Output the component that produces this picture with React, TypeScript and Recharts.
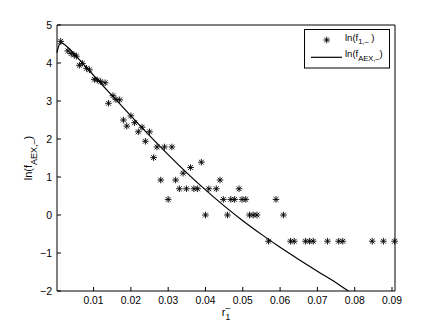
import React from "react";
import {
  ComposedChart,
  Line,
  Scatter,
  XAxis,
  YAxis,
} from "recharts";

// measured points, ln(f_1,-)
const scatterX = [
  0.0012, 0.0031, 0.004, 0.0048, 0.0054, 0.0062, 0.007, 0.0081, 0.0089, 0.0102,
  0.011, 0.0119, 0.0131, 0.014, 0.0152, 0.016, 0.017, 0.018, 0.0189, 0.02,
  0.021, 0.022, 0.023, 0.0239, 0.025, 0.0261, 0.027, 0.028, 0.029, 0.03,
  0.031, 0.032, 0.033, 0.034, 0.0349, 0.036, 0.0369, 0.0379, 0.0389, 0.04,
  0.0409, 0.0429, 0.0439, 0.0448, 0.0459, 0.0468, 0.0478, 0.049, 0.0498, 0.0508,
  0.0518, 0.0528, 0.0538, 0.0569, 0.0589, 0.0609, 0.0628, 0.0638, 0.0668, 0.0679,
  0.0689, 0.0727, 0.0757, 0.0768, 0.0847, 0.0877, 0.0907,
];
const scatterY = [
  4.57, 4.32, 4.25, 4.21, 4.18, 3.94, 3.99, 3.86, 3.82, 3.57,
  3.55, 3.51, 3.48, 2.94, 3.14, 3.04, 3.03, 2.5, 2.34, 2.61,
  2.43, 2.19, 2.31, 1.94, 2.19, 1.51, 1.79, 0.92, 1.79, 0.41,
  1.79, 0.92, 0.69, 1.1, 0.69, 1.25, 0.69, 0.69, 1.39, 0,
  0.69, 0.69, 0.92, 0.41, 0, 0.41, 0.41, 0.69, 0.41, 0.41,
  0, 0, 0, -0.69, 0.41, 0, -0.69, -0.69, -0.69, -0.69,
  -0.69, -0.69, -0.69, -0.69, -0.69, -0.69, -0.69,
];

// fitted curve, ln(f_AEX,-)
const lineX = [
  0.0002, 0.0006, 0.001, 0.0014, 0.002, 0.003, 0.005, 0.008, 0.0118, 0.015,
  0.02, 0.025, 0.03, 0.035, 0.04, 0.045, 0.05, 0.055, 0.06, 0.065, 0.07, 0.075,
  0.0783,
];
const lineY = [
  4.27, 4.43, 4.51, 4.53, 4.5, 4.42, 4.22, 3.89, 3.48, 3.14,
  2.61, 2.09, 1.59, 1.11, 0.66, 0.24, -0.15, -0.51, -0.85, -1.17, -1.48, -1.78,
  -2.0,
];

const xTicks = [0.01, 0.02, 0.03, 0.04, 0.05, 0.06, 0.07, 0.08, 0.09];
const yTicks = [-2, -1, 0, 1, 2, 3, 4, 5];

const scatterData = scatterX.map((x, i) => ({ x, y: scatterY[i] }));
const lineData = lineX.map((x, i) => ({ x, y: lineY[i] }));

const LEFT = 57;
const RIGHT = 395;
const TOP = 25;
const BOTTOM = 291;
const FONT = "'Liberation Sans', Arial, Helvetica, sans-serif";

const Asterisk = (props: any) => {
  const { cx, cy } = props;
  const r = 3.3;
  const d = 2.4;
  return (
    <g stroke="#000" strokeWidth={0.9}>
      <line x1={cx} y1={cy - r} x2={cx} y2={cy + r} />
      <line x1={cx - r} y1={cy} x2={cx + r} y2={cy} />
      <line x1={cx - d} y1={cy - d} x2={cx + d} y2={cy + d} />
      <line x1={cx - d} y1={cy + d} x2={cx + d} y2={cy - d} />
    </g>
  );
};

const BottomTick = (props: any) => {
  const { x, payload } = props;
  return (
    <g>
      <line x1={x} x2={x} y1={BOTTOM} y2={BOTTOM - 4} stroke="#000" />
      <text x={x} y={304} textAnchor="middle" fontSize={10.3} fontFamily={FONT} fill="#000">
        {payload.value.toFixed(2)}
      </text>
    </g>
  );
};

const TopTick = (props: any) => {
  const { x } = props;
  return <line x1={x} x2={x} y1={TOP} y2={TOP + 4} stroke="#000" />;
};

const LeftTick = (props: any) => {
  const { y, payload } = props;
  const v = payload.value;
  return (
    <g>
      <line x1={LEFT} x2={LEFT + 4} y1={y} y2={y} stroke="#000" />
      <text x={52} y={y + 3.7} textAnchor="end" fontSize={10.5} fontFamily={FONT} fill="#000">
        {v < 0 ? "\u2212" + Math.abs(v) : String(v)}
      </text>
    </g>
  );
};

const RightTick = (props: any) => {
  const { y } = props;
  return <line x1={RIGHT} x2={RIGHT - 4} y1={y} y2={y} stroke="#000" />;
};

export default function App() {
  return (
    <div style={{ position: "absolute", left: 0, top: 0, background: "#fff" }}>
      <ComposedChart
        width={436}
        height={328}
        margin={{ top: 0, right: 0, bottom: 0, left: 0 }}
      >
        <XAxis
          dataKey="x"
          type="number"
          domain={[0.0002, 0.0908]}
          ticks={xTicks}
          interval={0}
          height={328 - BOTTOM}
          axisLine={{ stroke: "#000" }}
          tickLine={false}
          tick={<BottomTick />}
        />
        <XAxis
          xAxisId="top"
          orientation="top"
          dataKey="x"
          type="number"
          domain={[0.0002, 0.0908]}
          ticks={xTicks}
          interval={0}
          height={TOP}
          axisLine={{ stroke: "#000" }}
          tickLine={false}
          tick={<TopTick />}
        />
        <YAxis
          type="number"
          domain={[-2, 5]}
          ticks={yTicks}
          interval={0}
          width={LEFT}
          axisLine={{ stroke: "#000" }}
          tickLine={false}
          tick={<LeftTick />}
        />
        <YAxis
          yAxisId="right"
          orientation="right"
          type="number"
          domain={[-2, 5]}
          ticks={yTicks}
          interval={0}
          width={436 - RIGHT}
          axisLine={{ stroke: "#000" }}
          tickLine={false}
          tick={<RightTick />}
        />
        <Line
          data={lineData}
          dataKey="y"
          type="monotone"
          stroke="#000"
          strokeWidth={1.2}
          dot={false}
          activeDot={false}
          isAnimationActive={false}
        />
        <Scatter
          data={scatterData}
          dataKey="y"
          shape={<Asterisk />}
          isAnimationActive={false}
        />
        <g transform="translate(304,29)">
          <rect x={0.5} y={0.5} width={85} height={38.5} fill="#fff" stroke="#000" />
          <Asterisk cx={22.7} cy={11} />
          <text x={41} y={11.5} fontSize={9.5} fontFamily={FONT} fill="#000">
            ln(f
            <tspan fontSize={7.5} dy={3.5}>1,–</tspan>
            <tspan dy={-3.5}> )</tspan>
          </text>
          <line x1={7} x2={38} y1={28.3} y2={28.3} stroke="#000" strokeWidth={1.2} />
          <text x={41} y={28} fontSize={9.5} fontFamily={FONT} fill="#000">
            ln(f
            <tspan fontSize={7.5} dy={4}>AEX,–</tspan>
            <tspan dy={-4}>)</tspan>
          </text>
        </g>
        <text
          x={226}
          y={316}
          textAnchor="middle"
          fontSize={11}
          fontFamily={FONT}
          fill="#000"
        >
          r
          <tspan fontSize={8.5} dy={4}>1</tspan>
          <tspan fontSize={8.5} dx={-4.7} dy={-9}>–</tspan>
        </text>
        <text
          transform="translate(32,158) rotate(-90)"
          textAnchor="middle"
          fontSize={11}
          fontFamily={FONT}
          fill="#000"
        >
          ln(f
          <tspan fontSize={9} dy={4.5}>AEX,–</tspan>
          <tspan dy={-4.5}>)</tspan>
        </text>
      </ComposedChart>
    </div>
  );
}
